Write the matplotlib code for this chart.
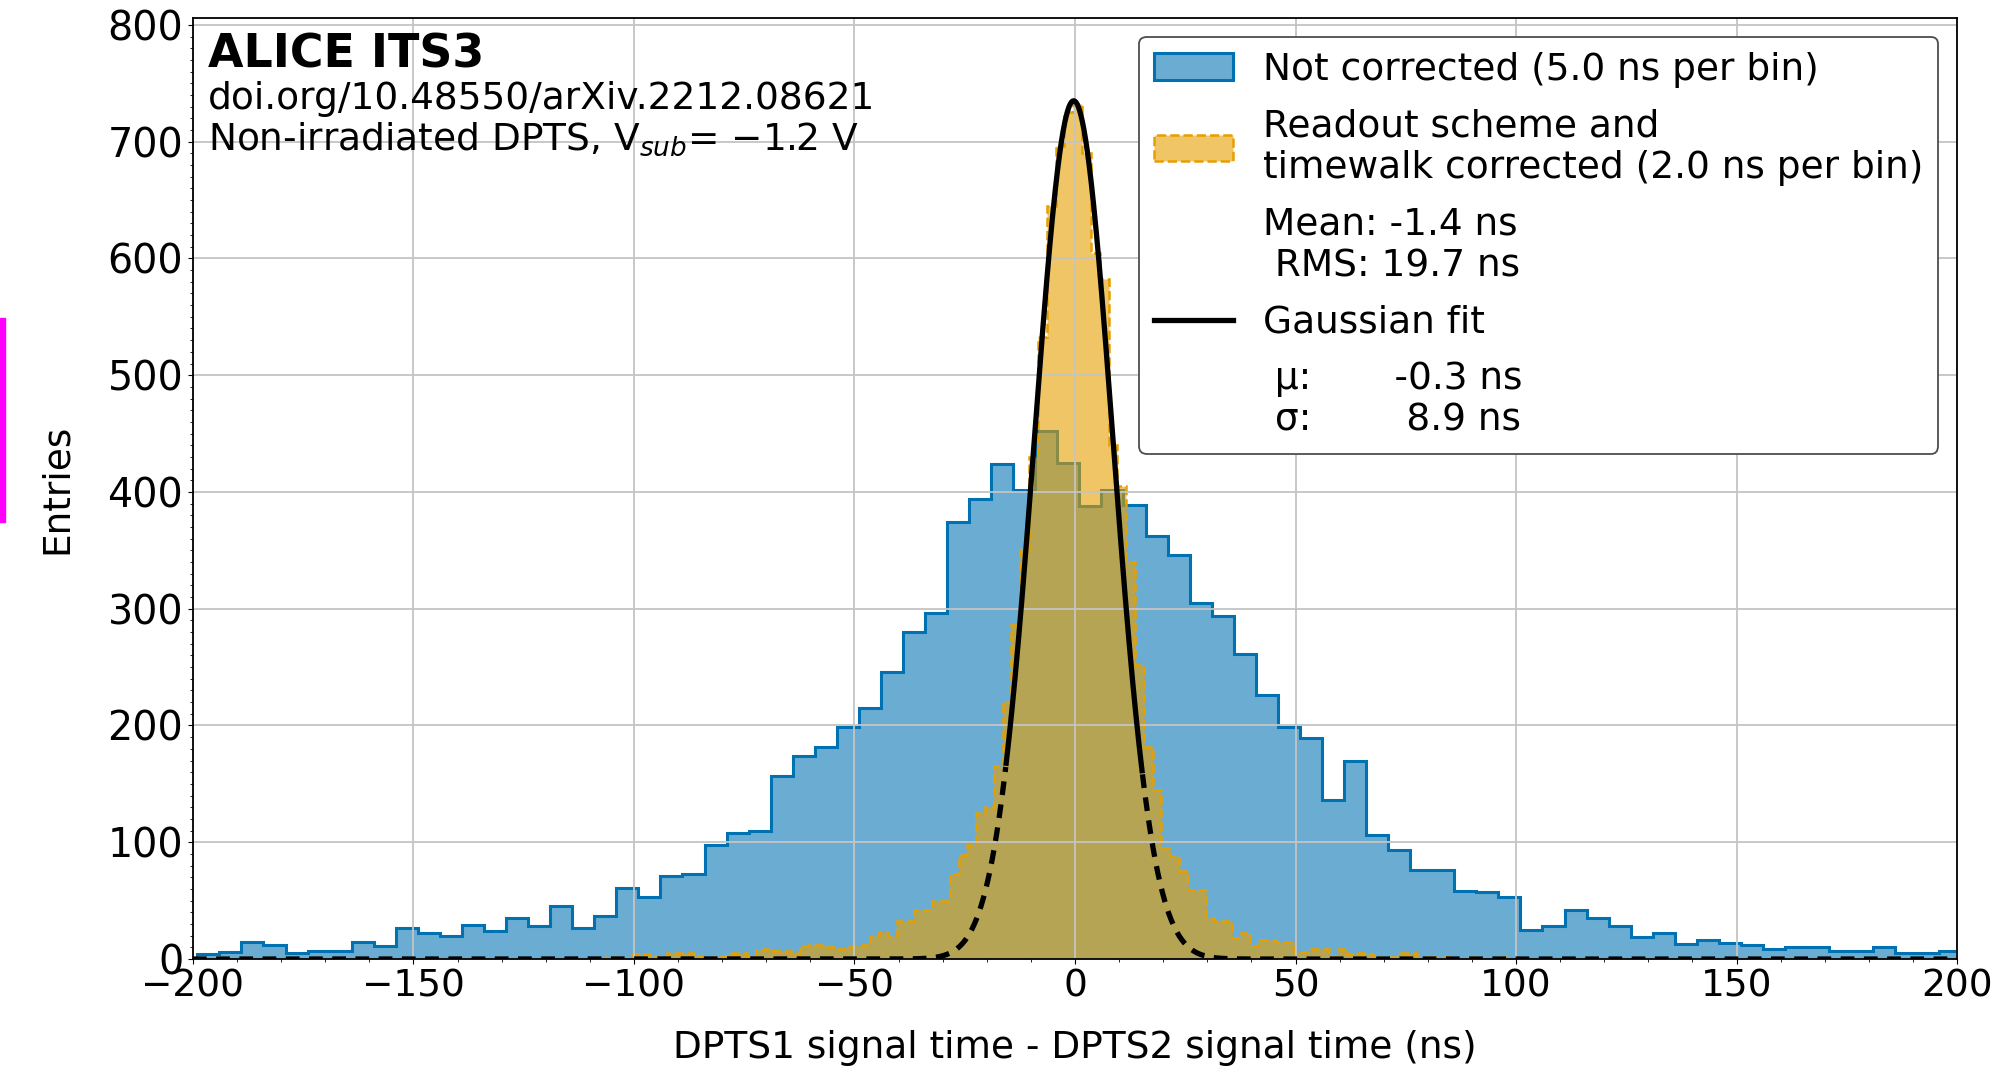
import numpy as np
import matplotlib.pyplot as plt
from matplotlib.patches import Patch, Rectangle
from matplotlib.lines import Line2D
from matplotlib.ticker import MultipleLocator

plt.rcParams['font.family'] = ['DejaVu Sans']
fnt = 27

# not corrected, 5 ns bins starting at -199 ns
blue_start = -199.0
blue_width = 5.0
blue_counts = [4, 6, 15, 12, 5, 7, 7, 15, 11, 27,
               22, 20, 29, 24, 35, 28, 45, 27, 37, 61,
               53, 71, 73, 98, 108, 110, 157, 174, 182, 199,
               215, 246, 280, 296, 374, 394, 424, 402, 452, 425,
               388, 402, 389, 362, 346, 305, 294, 261, 226, 199,
               189, 136, 170, 106, 93, 76, 76, 58, 57, 53,
               25, 28, 42, 35, 28, 19, 22, 13, 16, 14,
               12, 9, 10, 10, 7, 7, 10, 5, 5, 7]

# readout scheme + timewalk corrected, 2 ns bins starting at -110.4 ns
orange_start = -110.4
orange_width = 2.0
orange_counts = [1, 0, 2, 0, 1, 4, 4, 2, 1, 5,
                 5, 5, 3, 1, 2, 3, 5, 5, 3, 8,
                 9, 7, 7, 5, 11, 12, 12, 10, 9, 10,
                 11, 12, 20, 23, 20, 33, 33, 42, 42, 50,
                 50, 73, 89, 98, 125, 130, 165, 220, 286, 350,
                 430, 533, 645, 696, 725, 732, 690, 605, 582, 440,
                 405, 340, 252, 182, 145, 95, 88, 75, 59, 59,
                 35, 33, 33, 18, 22, 11, 16, 16, 15, 15,
                 6, 6, 9, 9, 3, 9, 4, 5, 4, 2,
                 1, 2, 5, 5, 1, 3, 1, 2, 0, 1,
                 2, 1, 0, 2, 1]

# gaussian fit parameters
fit_amp = 735.0
fit_mu = -0.3
fit_sigma = 8.9
fit_lo, fit_hi = -15.6, 15.3

blue_ec = '#0072B2'
blue_fc = (0.0, 0.447, 0.698, 0.58)
orange_ec = '#E69F00'
orange_fc = (0.902, 0.624, 0.0, 0.6)

blue_edges = blue_start + blue_width*np.arange(len(blue_counts)+1)
orange_edges = orange_start + orange_width*np.arange(len(orange_counts)+1)

fig = plt.figure(figsize=(19.97, 10.76), dpi=100)
ax = fig.add_axes([0.0966, 0.1087, 0.8834, 0.8747])

ax.hist(blue_edges[:-1] + blue_width/2, bins=blue_edges, weights=blue_counts,
        histtype='stepfilled', facecolor=blue_fc, edgecolor=blue_ec, lw=2.2)
ax.hist(orange_edges[:-1] + orange_width/2, bins=orange_edges, weights=orange_counts,
        histtype='stepfilled', facecolor=orange_fc, edgecolor=orange_ec, lw=1.8, ls='--')

t = np.linspace(-200, 200, 4001)
g = fit_amp*np.exp(-0.5*((t - fit_mu)/fit_sigma)**2)
inside = (t >= fit_lo) & (t <= fit_hi)
ax.plot(t[inside], g[inside], c='k', lw=3.8, zorder=5)
ax.plot(np.where(t < fit_lo, t, np.nan), g, c='k', lw=3.8, ls=(0, (2.6, 1.8)), zorder=5)
ax.plot(np.where(t > fit_hi, t, np.nan), g, c='k', lw=3.8, ls=(0, (2.6, 1.8)), zorder=5)

ax.set_xlim(-200, 200)
ax.set_ylim(0, 806)
ax.xaxis.set_major_locator(MultipleLocator(50))
ax.xaxis.set_minor_locator(MultipleLocator(10))
ax.yaxis.set_major_locator(MultipleLocator(100))
ax.yaxis.set_minor_locator(MultipleLocator(10))
ax.tick_params(axis='x', labelsize=fnt)
ax.tick_params(axis='y', labelsize=28.5)
ax.grid(True, which='major', color='#c4c4c4', lw=1.3)
for s in ax.spines.values():
    s.set_linewidth(1.3)

ax.set_xlabel('DPTS1 signal time - DPTS2 signal time (ns)', fontsize=fnt)
ax.set_ylabel('Entries', fontsize=fnt)
ax.xaxis.set_label_coords(0.5, -0.075)
ax.yaxis.set_label_coords(-0.067, 0.5)

ax.text(0.0083, 0.947, 'ALICE ITS3', transform=ax.transAxes, fontsize=33,
        fontweight='bold', va='baseline')
ax.text(0.0083, 0.903, 'doi.org/10.48550/arXiv.2212.08621', transform=ax.transAxes,
        fontsize=fnt, va='baseline')
ax.text(0.0083, 0.860, r'Non-irradiated DPTS, V$_{sub}$= $-$1.2 V', transform=ax.transAxes,
        fontsize=fnt, va='baseline')

blank = Patch(facecolor='none', edgecolor='none')
handles = [Patch(facecolor=blue_fc, edgecolor=blue_ec, lw=2.2),
           Patch(facecolor=orange_fc, edgecolor=orange_ec, lw=1.8, ls='--'),
           blank,
           Line2D([], [], c='k', lw=3.8),
           blank]
labels = ['Not corrected (5.0 ns per bin)',
          'Readout scheme and\ntimewalk corrected (2.0 ns per bin)',
          'Mean: -1.4 ns\n RMS: 19.7 ns',
          'Gaussian fit',
          ' \u03bc:       -0.3 ns\n \u03c3:        8.9 ns']
leg = ax.legend(handles, labels, loc='upper right', fontsize=fnt,
                handlelength=2.1, handletextpad=0.8, labelspacing=0.55,
                framealpha=1)
leg.get_frame().set_edgecolor('0.3')
leg.get_frame().set_linewidth(1.3)

fig.patches.append(Rectangle((0, (1076-522)/1076), 5/1997, 204/1076,
                             transform=fig.transFigure, color='#FF00FF'))

fig.savefig('out.png', dpi=100)
